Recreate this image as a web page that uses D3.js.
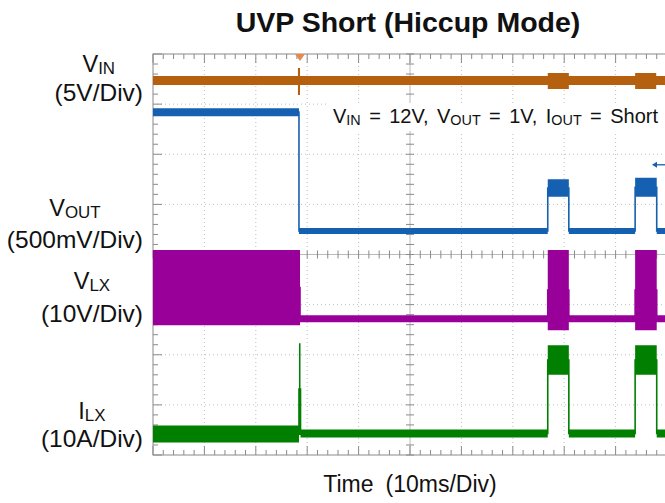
<!DOCTYPE html>
<html>
<head>
<meta charset="utf-8">
<script src="https://cdn.jsdelivr.net/npm/d3@7"></script>
<style>
    body { margin: 0; background: #fff; }
    text { font-family: "Liberation Sans", Arial, sans-serif; fill: #111; }
</style>
</head>
<body>
<div id="chart"></div>
<script>
// time in ms (10ms/div), levels in screen divisions (0 = centre line)
const timeTicks = d3.range(0, 101, 10);
const minorTime = d3.range(0, 100.01, 2);
const divTicks = d3.range(-4, 5, 1);
const minorDiv = d3.range(-4, 4.01, 0.2);

// each row: [time, low, high] envelope of the trace, held until next row
const vinTrace = [
    [0, 3.38, 3.56], [28.2, 3.18, 3.72], [28.6, 3.38, 3.56],
    [76.8, 3.30, 3.62], [80.9, 3.38, 3.56],
    [93.8, 3.30, 3.62], [97.9, 3.38, 3.56], [100, 3.38, 3.56]
];
const voutTrace = [
    [0, 2.76, 2.92], [28.4, 0.41, 0.53],
    [76.8, 1.15, 1.50], [80.9, 0.41, 0.53],
    [93.8, 1.15, 1.53], [98.0, 0.41, 0.53], [100, 0.41, 0.53]
];
const vlxTrace = [
    [0, -1.41, 0.09], [28.6, -1.35, -1.21],
    [76.8, -1.51, 0.09], [80.9, -1.35, -1.21],
    [93.8, -1.51, 0.09], [98.0, -1.35, -1.21], [100, -1.35, -1.21]
];
const ilxTrace = [
    [0, -3.75, -3.41], [28.4, -3.60, -1.77], [28.7, -3.65, -3.49],
    [76.8, -2.40, -1.81], [80.9, -3.65, -3.49],
    [93.8, -2.40, -1.81], [98.0, -3.65, -3.49], [100, -3.65, -3.49]
];

const triggerTime = 28.6;
const voutRef = 1.79;

const chTitle = 'UVP Short (Hiccup Mode)';
const xTitle = 'Time  (10ms/Div)';

document.addEventListener('DOMContentLoaded', function(){
    drawChart();
});

function drawChart() {
    const svg = d3.select('#chart').append('svg').attr('width', 665).attr('height', 503);

    const x = d3.scaleLinear().domain([0, 100]).range([153, 667]);
    const y = d3.scaleLinear().domain([-4, 4]).range([455, 54]);

    // dotted grid
    const grid = svg.append('g');
    grid.selectAll('.vg').data(timeTicks.filter(t => t > 0 && t < 100 && t !== 50)).enter().append('line')
        .attr('x1', d => x(d)).attr('x2', d => x(d))
        .attr('y1', y(4)).attr('y2', y(-4))
        .attr('stroke', '#c0c0c0').attr('stroke-dasharray', '1,3');
    grid.selectAll('.hg').data(divTicks.filter(d => d > -4 && d < 4 && d !== 0)).enter().append('line')
        .attr('y1', d => y(d)).attr('y2', d => y(d))
        .attr('x1', x(0)).attr('x2', x(100))
        .attr('stroke', '#c0c0c0').attr('stroke-dasharray', '1,3');

    // centre cross with minor ticks
    grid.append('line').attr('x1', x(0)).attr('x2', x(100)).attr('y1', y(0)).attr('y2', y(0))
        .attr('stroke', '#a8a8a8').attr('stroke-width', 0.8);
    grid.append('line').attr('x1', x(50)).attr('x2', x(50)).attr('y1', y(4)).attr('y2', y(-4))
        .attr('stroke', '#a8a8a8').attr('stroke-width', 0.8);
    grid.selectAll('.ct').data(minorTime).enter().append('line')
        .attr('x1', d => x(d)).attr('x2', d => x(d))
        .attr('y1', y(0) - 4).attr('y2', y(0) + 4)
        .attr('stroke', '#8a8a8a');
    grid.selectAll('.cd').data(minorDiv).enter().append('line')
        .attr('y1', d => y(d)).attr('y2', d => y(d))
        .attr('x1', x(50) - 4).attr('x2', x(50) + 4)
        .attr('stroke', '#8a8a8a');

    // border + ticks
    grid.append('rect').attr('x', x(0)).attr('y', y(4))
        .attr('width', x(100) - x(0)).attr('height', y(-4) - y(4))
        .attr('fill', 'none').attr('stroke', '#8a8a8a');
    const isMajor = v => Math.abs(v - Math.round(v / 10) * 10) < 1e-6;
    grid.selectAll('.tt').data(minorTime).enter().append('line')
        .attr('x1', d => x(d)).attr('x2', d => x(d))
        .attr('y1', y(4)).attr('y2', d => y(4) + (isMajor(d) ? 9 : 5))
        .attr('stroke', '#8a8a8a');
    grid.selectAll('.bt').data(minorTime).enter().append('line')
        .attr('x1', d => x(d)).attr('x2', d => x(d))
        .attr('y1', y(-4)).attr('y2', d => y(-4) - (isMajor(d) ? 9 : 5))
        .attr('stroke', '#8a8a8a');
    grid.selectAll('.lt').data(minorDiv).enter().append('line')
        .attr('y1', d => y(d)).attr('y2', d => y(d))
        .attr('x1', x(0)).attr('x2', d => x(0) + (Math.abs(d - Math.round(d)) < 1e-6 ? 9 : 5))
        .attr('stroke', '#8a8a8a');

    // traces
    const channels = [
        { data: vinTrace, color: '#b5600f' },
        { data: voutTrace, color: '#1560b0' },
        { data: vlxTrace, color: '#990099' },
        { data: ilxTrace, color: '#007f00' }
    ];
    const area = d3.area().x(d => x(d[0])).y0(d => y(d[1])).y1(d => y(d[2])).curve(d3.curveStepAfter);
    const line = d3.line().x(d => x(d[0])).y(d => y((d[1] + d[2]) / 2)).curve(d3.curveStepAfter);
    const traces = svg.append('g');
    channels.forEach(function(ch) {
        traces.append('path').attr('d', area(ch.data)).attr('fill', ch.color);
        traces.append('path').attr('d', line(ch.data)).attr('fill', 'none')
            .attr('stroke', ch.color).attr('stroke-width', 1.6);
    });

    // trigger marker and vout reference arrow
    svg.append('path')
        .attr('d', 'M' + (x(triggerTime) - 5) + ',' + y(4) + 'h10l-5,7z')
        .attr('fill', '#e58a4a');
    const ay = y(voutRef);
    svg.append('line').attr('x1', 655).attr('x2', 666).attr('y1', ay).attr('y2', ay)
        .attr('stroke', '#1560b0').attr('stroke-width', 1.3);
    svg.append('path').attr('d', 'M652,' + ay + 'l5,-3v6z').attr('fill', '#1560b0');

    // text helper with small subscripts
    function label(parts, px, py, size, anchor) {
        const t = svg.append('text').attr('x', px).attr('y', py)
            .attr('font-size', size).attr('text-anchor', anchor || 'start');
        parts.forEach(function(p, i) {
            const prev = i > 0 ? parts[i - 1][1] : false;
            const s = t.append('tspan').text(p[0]);
            if (p[1]) s.attr('font-size', size * 0.72);
            s.attr('dy', p[1] && !prev ? 1.5 : (!p[1] && prev ? -1.5 : 0));
        });
        return t;
    }
    // stretch word gaps so the line spans the wanted width
    function fitWidth(t, target) {
        const w = t.node().getComputedTextLength();
        const n = (t.text().match(/ /g) || []).length;
        if (n) t.attr('word-spacing', (target - w) / n);
    }

    svg.append('text').attr('x', 408).attr('y', 32).attr('text-anchor', 'middle')
        .attr('font-size', 28.5).attr('font-weight', 'bold').text(chTitle);
    const xl = svg.append('text').attr('x', 410).attr('y', 492).attr('text-anchor', 'middle')
        .attr('font-size', 23).text(xTitle);
    fitWidth(xl, 179);

    // left channel labels
    const chLabels = [
        { name: [['V'], ['IN', 1]], scale: '(5V/Div)', y1: 72, y2: 101 },
        { name: [['V'], ['OUT', 1]], scale: '(500mV/Div)', y1: 216, y2: 248 },
        { name: [['V'], ['LX', 1]], scale: '(10V/Div)', y1: 289, y2: 322 },
        { name: [['I'], ['LX', 1]], scale: '(10A/Div)', y1: 419, y2: 447 }
    ];
    chLabels.forEach(function(c) {
        const s = svg.append('text').attr('x', 143).attr('y', c.y2).attr('text-anchor', 'end')
            .attr('font-size', 24.5).text(c.scale);
        const b = s.node().getBBox();
        label(c.name, b.x + b.width / 2, c.y1, 23.5, 'middle');
    });

    // condition annotation
    svg.append('rect').attr('x', 328).attr('y', 103).attr('width', 336).attr('height', 28).attr('fill', '#fff');
    const note = label([['V'], ['IN', 1], [' = 12V, V'], ['OUT', 1], [' = 1V, I'], ['OUT', 1], [' = Short']], 333, 123, 20);
    fitWidth(note, 325);
}
</script>
</body>
</html>
